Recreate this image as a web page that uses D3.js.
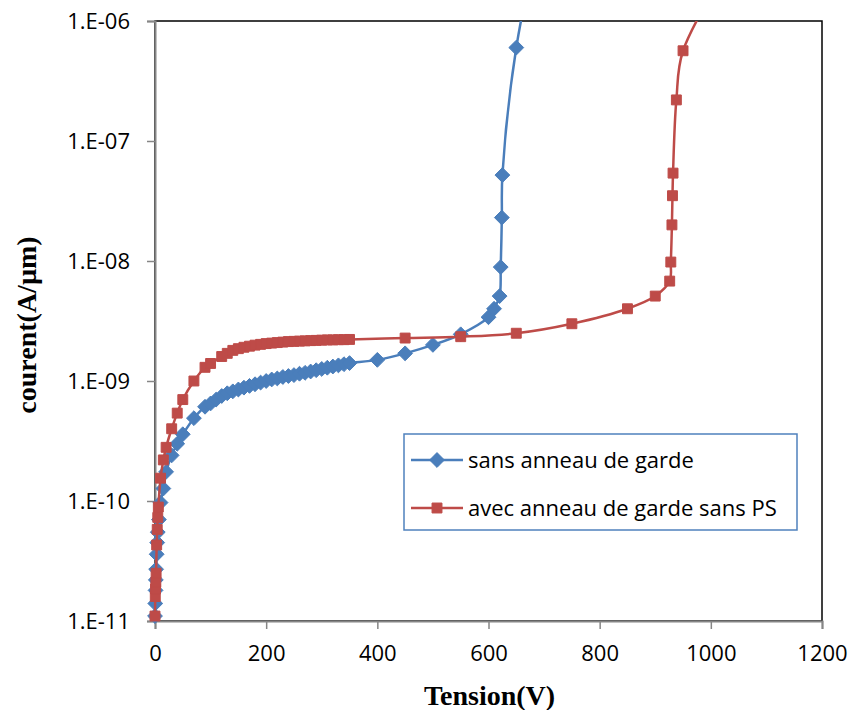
<!DOCTYPE html>
<html>
<head>
<meta charset="utf-8">
<script src="https://cdn.jsdelivr.net/npm/d3@7"></script>
<style>
  body { margin: 0; background: #fff; }
</style>
</head>
<body>
<svg id="chart" width="853" height="710"></svg>
<script>
const seriesNames = ["sans anneau de garde", "avec anneau de garde sans PS"];

const sansV = [0, 0.5, 1, 1.5, 2, 3, 4, 5, 7, 10, 15, 20, 30, 40, 50, 70, 90, 100,
    110, 120, 130, 140, 150, 160, 170, 180, 190, 200, 210, 220, 230, 240, 250, 260,
    270, 280, 290, 300, 310, 320, 330, 340, 350, 400, 450, 500, 550, 600, 610, 620,
    622, 624, 625, 650, 700];
const sansI = [1.1e-11, 1.4e-11, 1.8e-11, 2.2e-11, 2.7e-11, 3.6e-11, 4.5e-11, 5.5e-11, 7e-11,
    9.7e-11, 1.27e-10, 1.75e-10, 2.4e-10, 3.0e-10, 3.6e-10, 4.9e-10, 6.1e-10, 6.5e-10,
    7.0e-10, 7.5e-10, 7.9e-10, 8.2e-10, 8.5e-10, 8.8e-10, 9.1e-10, 9.4e-10, 9.7e-10, 1.0e-9,
    1.03e-9, 1.05e-9, 1.08e-9, 1.10e-9, 1.12e-9, 1.15e-9, 1.17e-9, 1.20e-9, 1.23e-9, 1.26e-9,
    1.29e-9, 1.32e-9, 1.35e-9, 1.38e-9, 1.41e-9, 1.5e-9, 1.7e-9, 2.0e-9, 2.45e-9, 3.4e-9,
    4.0e-9, 5.1e-9, 8.9e-9, 2.3e-8, 5.2e-8, 6.0e-7, 8e-6];

const avecV = [0, 0.5, 1, 1.5, 2, 3, 4, 5, 6, 10, 15, 20, 30, 40, 50, 70, 90, 100, 120, 130,
    140, 150, 160, 170, 180, 190, 200, 210, 220, 230, 240, 250, 260, 270, 280, 290, 300,
    310, 320, 330, 340, 350, 450, 550, 650, 750, 850, 900, 926, 928, 930, 931, 932, 938,
    950, 1050];
const avecI = [1.1e-11, 1.6e-11, 1.85e-11, 2.1e-11, 2.5e-11, 4.3e-11, 5.8e-11, 7.3e-11, 8.9e-11,
    1.55e-10, 2.2e-10, 2.8e-10, 4.0e-10, 5.4e-10, 7.0e-10, 1.0e-9, 1.3e-9, 1.4e-9, 1.6e-9, 1.7e-9,
    1.80e-9, 1.86e-9, 1.91e-9, 1.95e-9, 1.99e-9, 2.02e-9, 2.05e-9, 2.07e-9, 2.09e-9, 2.11e-9,
    2.13e-9, 2.14e-9, 2.15e-9, 2.16e-9, 2.17e-9, 2.18e-9, 2.19e-9, 2.20e-9, 2.20e-9, 2.21e-9,
    2.21e-9, 2.22e-9, 2.28e-9, 2.34e-9, 2.5e-9, 3.0e-9, 4.0e-9, 5.1e-9, 6.8e-9, 9.8e-9, 2.0e-8,
    3.5e-8, 5.4e-8, 2.2e-7, 5.65e-7, 4e-6];

const xTicks = [0, 200, 400, 600, 800, 1000, 1200];
const yTicks = [1e-11, 1e-10, 1e-9, 1e-8, 1e-7, 1e-6];

const plotLeft = 155, plotRight = 822, plotTop = 21, plotBottom = 621;
const blue = "#4a7ebb", red = "#be4b48";
const tickFont = "'Open Sans', sans-serif";
const titleFont = "'Liberation Serif', 'Times New Roman', serif";

const svg = d3.select("#chart");

const x = d3.scaleLinear().domain([0, 1200]).range([plotLeft, plotRight]);
const y = d3.scaleLog().domain([1e-11, 1e-6]).range([plotBottom, plotTop]);

const fmt = v => "1.E-" + String(Math.round(-Math.log10(v))).padStart(2, "0");

svg.append("defs").append("clipPath").attr("id", "plot")
    .append("rect")
    .attr("x", plotLeft - 10).attr("y", plotTop)
    .attr("width", plotRight - plotLeft + 10).attr("height", plotBottom - plotTop + 10);

// plot area border (top / right)
svg.append("rect")
    .attr("x", plotLeft).attr("y", plotTop)
    .attr("width", plotRight - plotLeft).attr("height", plotBottom - plotTop)
    .attr("fill", "none")
    .attr("stroke", "#000")
    .attr("stroke-width", 1.5);

const xAxis = svg.append("g")
    .attr("transform", `translate(0,${plotBottom})`)
    .call(d3.axisBottom(x).tickValues(xTicks).tickFormat(d3.format("d")).tickSize(8).tickPadding(16));
const yAxis = svg.append("g")
    .attr("transform", `translate(${plotLeft},0)`)
    .call(d3.axisLeft(y).tickValues(yTicks).tickFormat(fmt).tickSize(8).tickPadding(17));

[xAxis, yAxis].forEach(g => {
    g.select(".domain").attr("stroke", "#868686").attr("stroke-width", 2);
    g.selectAll(".tick line").attr("stroke", "#868686").attr("stroke-width", 1.5);
    g.selectAll(".tick text")
        .attr("fill", "#000")
        .style("font-family", tickFont)
        .style("font-size", "22px");
});

// axis titles
svg.append("text")
    .attr("x", (plotLeft + plotRight) / 2 + 1)
    .attr("y", 705)
    .attr("text-anchor", "middle")
    .style("font-family", titleFont)
    .style("font-weight", "bold")
    .style("font-size", "28px")
    .text("Tension(V)");

svg.append("text")
    .attr("transform", "translate(36,325) rotate(-90)")
    .attr("text-anchor", "middle")
    .style("font-family", titleFont)
    .style("font-weight", "bold")
    .style("font-size", "28px")
    .text("courent(A/µm)");

const series = [
    {name: seriesNames[0], v: sansV, i: sansI, color: blue, symbol: d3.symbolDiamond2, size: 140},
    {name: seriesNames[1], v: avecV, i: avecI, color: red, symbol: d3.symbolSquare2, size: 125},
];

const line = d3.line()
    .curve(d3.curveCatmullRom.alpha(0.5))
    .x(d => x(d[0]))
    .y(d => y(d[1]));

const plot = svg.append("g").attr("clip-path", "url(#plot)");

series.forEach(s => {
    const pts = s.v.map((v, k) => [v, s.i[k]]);
    plot.append("path")
        .attr("d", line(pts))
        .attr("fill", "none")
        .attr("stroke", s.color)
        .attr("stroke-width", 2.5);

    plot.append("g")
        .selectAll("path")
        .data(pts)
        .enter()
        .append("path")
        .attr("d", d3.symbol().type(s.symbol).size(s.size))
        .attr("transform", d => `translate(${x(d[0])},${y(d[1])})`)
        .attr("fill", s.color)
        .attr("stroke", s.color)
        .attr("stroke-width", 1);
});

// legend
const legend = svg.append("g");
legend.append("rect")
    .attr("x", 404).attr("y", 434)
    .attr("width", 393).attr("height", 96)
    .attr("fill", "#fff")
    .attr("stroke", "#4f81bd")
    .attr("stroke-width", 1.5);

series.forEach((s, k) => {
    const ly = 460 + k * 48;
    legend.append("line")
        .attr("x1", 411).attr("x2", 463)
        .attr("y1", ly).attr("y2", ly)
        .attr("stroke", s.color)
        .attr("stroke-width", 2.5);
    legend.append("path")
        .attr("d", d3.symbol().type(s.symbol).size(s.size))
        .attr("transform", `translate(437,${ly})`)
        .attr("fill", s.color)
        .attr("stroke", s.color)
        .attr("stroke-width", 1);
    legend.append("text")
        .attr("x", 468)
        .attr("y", ly)
        .attr("dy", "0.35em")
        .style("font-family", tickFont)
        .style("font-size", "22px")
        .attr("fill", "#000")
        .text(s.name);
});
</script>
</body>
</html>
